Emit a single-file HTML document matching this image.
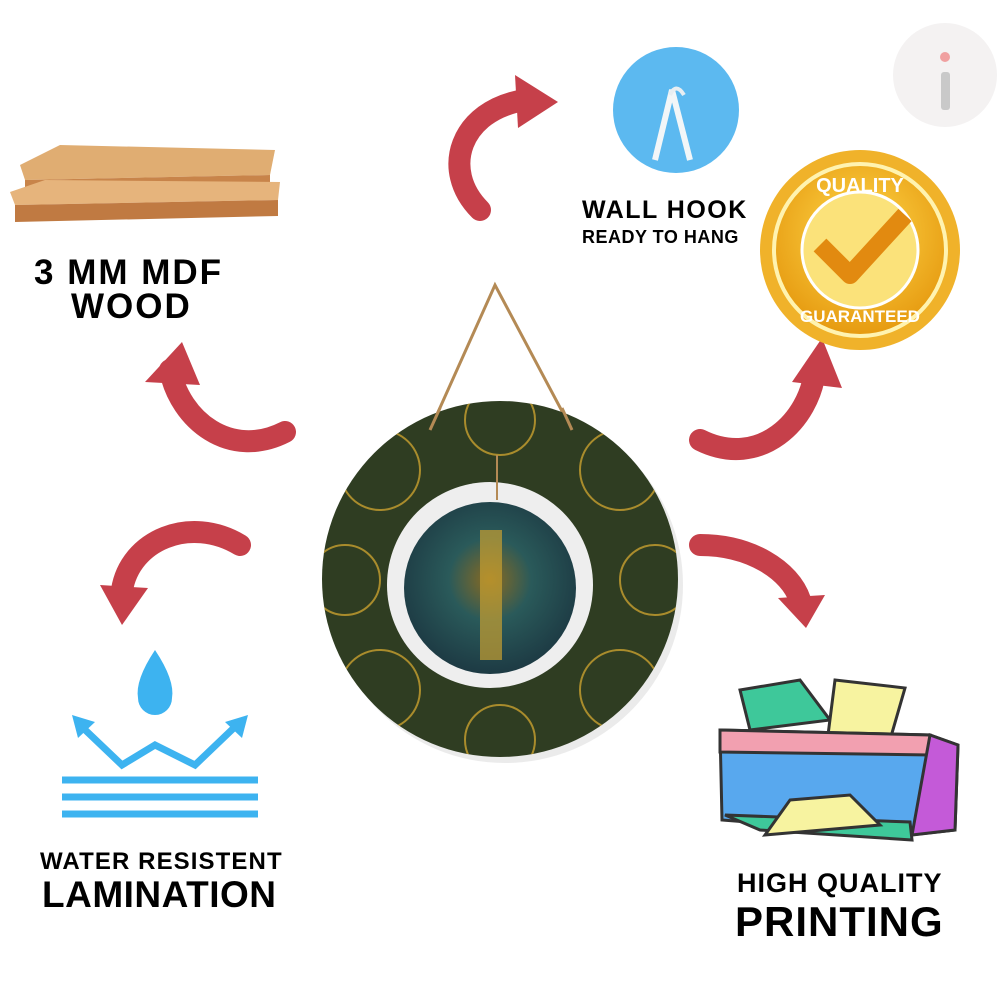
<!DOCTYPE html>
<html><head><style>
html,body{margin:0;padding:0;background:#fff;}
.w{position:relative;width:1000px;height:1000px;overflow:hidden;font-family:"Liberation Sans",sans-serif;font-weight:bold;color:#000;}
.t{position:absolute;white-space:nowrap;letter-spacing:0.5px;}
</style></head><body><div class="w">
<svg width="1000" height="1000" style="position:absolute;left:0;top:0">
<defs>
<radialGradient id="gold" cx="50%" cy="40%" r="60%"><stop offset="0" stop-color="#ffd84a"/><stop offset="1" stop-color="#e69a10"/></radialGradient>
<radialGradient id="img" cx="50%" cy="45%" r="60%"><stop offset="0" stop-color="#8a6a20"/><stop offset="0.4" stop-color="#2a5a5a"/><stop offset="1" stop-color="#1b3540"/></radialGradient>
<clipPath id="pc"><circle cx="500" cy="579" r="178"/></clipPath>
</defs>
<circle cx="945" cy="75" r="52" fill="#f4f2f2"/>
<rect x="941" y="72" width="9" height="38" rx="3" fill="#c9c9c9"/>
<circle cx="945" cy="57" r="5" fill="#f0a0a0"/>
<polygon points="20,165 60,145 275,150 270,175 25,180" fill="#e0ad72"/>
<polygon points="25,180 270,175 270,195 25,200" fill="#c8844a"/>
<polygon points="10,192 45,180 280,182 278,200 15,205" fill="#e6b47c"/>
<polygon points="15,205 278,200 278,216 15,222" fill="#c07a42"/>
<g fill="none" stroke="#c6404a" stroke-width="22" stroke-linecap="round">
<path d="M480,210 C440,170 460,110 525,100"/>
<path d="M285,432 C230,460 180,420 170,370"/>
<path d="M240,545 C190,515 130,540 122,590"/>
<path d="M700,440 C760,470 810,420 815,370"/>
<path d="M700,545 C750,545 790,570 800,600"/>
</g>
<g fill="#c6404a">
<polygon points="515,75 558,102 518,128"/>
<polygon points="145,382 182,342 200,385"/>
<polygon points="100,585 148,588 122,625"/>
<polygon points="792,382 822,338 842,388"/>
<polygon points="778,598 825,595 806,628"/>
</g>
<circle cx="676" cy="110" r="63" fill="#5cb9f0"/>
<path d="M655,160 L672,90 L690,160" fill="none" stroke="#f2f6f8" stroke-width="6"/>
<path d="M670,95 Q676,82 684,95" fill="none" stroke="#e8eef2" stroke-width="4"/>
<circle cx="860" cy="250" r="100" fill="#f0b22a"/>
<circle cx="860" cy="250" r="86" fill="url(#gold)" stroke="#fff3b0" stroke-width="4"/>
<circle cx="860" cy="250" r="58" fill="#fbe27a" stroke="#fff" stroke-width="3"/>
<path d="M820,245 L850,275 L905,215" fill="none" stroke="#e28a10" stroke-width="18" stroke-linejoin="round"/>
<text x="860" y="192" text-anchor="middle" font-family="Liberation Sans" font-weight="bold" font-size="20" fill="#fff">QUALITY</text>
<text x="860" y="322" text-anchor="middle" font-family="Liberation Sans" font-weight="bold" font-size="17" fill="#fff">GUARANTEED</text>
<path d="M430,430 L495,285 L572,430" fill="none" stroke="#b48a55" stroke-width="3"/>
<circle cx="505" cy="585" r="178" fill="#d8d8d8" opacity="0.5"/>
<circle cx="500" cy="579" r="178" fill="#2f3d22"/>
<g fill="none" stroke="#c9a030" stroke-width="2" opacity="0.8" clip-path="url(#pc)">
<circle cx="380" cy="470" r="40"/><circle cx="620" cy="470" r="40"/><circle cx="380" cy="690" r="40"/><circle cx="620" cy="690" r="40"/>
<circle cx="500" cy="420" r="35"/><circle cx="500" cy="740" r="35"/><circle cx="345" cy="580" r="35"/><circle cx="655" cy="580" r="35"/>
</g>
<path d="M430,430 L440,408 M572,430 L562,408" stroke="#b48a55" stroke-width="3"/>
<circle cx="490" cy="585" r="103" fill="#eeeeee"/>
<circle cx="490" cy="588" r="86" fill="url(#img)"/>
<rect x="480" y="530" width="22" height="130" fill="#c8a030" opacity="0.7"/>
<line x1="497" y1="455" x2="497" y2="500" stroke="#b48a55" stroke-width="2"/>
<path d="M155,650 Q135,680 138,698 A17,17 0 0 0 172,698 Q175,680 155,650Z" fill="#3db3f0"/>
<g fill="none" stroke="#3db3f0" stroke-width="7">
<path d="M80,725 L122,765 L155,745 L195,765 L240,722"/>
<line x1="62" y1="780" x2="258" y2="780"/>
<line x1="62" y1="797" x2="258" y2="797"/>
<line x1="62" y1="814" x2="258" y2="814"/>
</g>
<polygon points="72,715 95,722 78,738" fill="#3db3f0"/>
<polygon points="248,715 225,722 242,738" fill="#3db3f0"/>
<polygon points="740,690 800,680 830,720 750,730" fill="#3ec89a" stroke="#333" stroke-width="3"/>
<polygon points="835,680 905,688 890,740 828,735" fill="#f7f3a0" stroke="#333" stroke-width="3"/>
<polygon points="720,730 930,735 958,745 955,830 910,835 722,820" fill="#58a8ee" stroke="#333" stroke-width="3"/>
<polygon points="720,730 930,735 930,755 720,752" fill="#f2a0b0" stroke="#333" stroke-width="3"/>
<polygon points="930,735 958,745 955,830 912,835" fill="#c45ad8" stroke="#333" stroke-width="3"/>
<polygon points="725,815 910,822 912,840 760,830" fill="#3ec89a" stroke="#333" stroke-width="3"/>
<polygon points="790,800 850,795 880,825 765,835" fill="#f7f3a0" stroke="#333" stroke-width="3"/>
</svg>
<div class="t" style="left:34px;top:253px;font-size:35px;letter-spacing:2px;">3 MM MDF</div>
<div class="t" style="left:71px;top:287px;font-size:35px;letter-spacing:2px;">WOOD</div>
<div class="t" style="left:582px;top:196px;font-size:25px;letter-spacing:1.5px;">WALL HOOK</div>
<div class="t" style="left:582px;top:227px;font-size:18px;">READY TO HANG</div>
<div class="t" style="left:40px;top:848px;font-size:24px;letter-spacing:1.1px;">WATER RESISTENT</div>
<div class="t" style="left:42px;top:874px;font-size:37px;">LAMINATION</div>
<div class="t" style="left:737px;top:868px;font-size:27px;letter-spacing:1px;">HIGH QUALITY</div>
<div class="t" style="left:735px;top:898px;font-size:42px;letter-spacing:1px;">PRINTING</div>
</div></body></html>
